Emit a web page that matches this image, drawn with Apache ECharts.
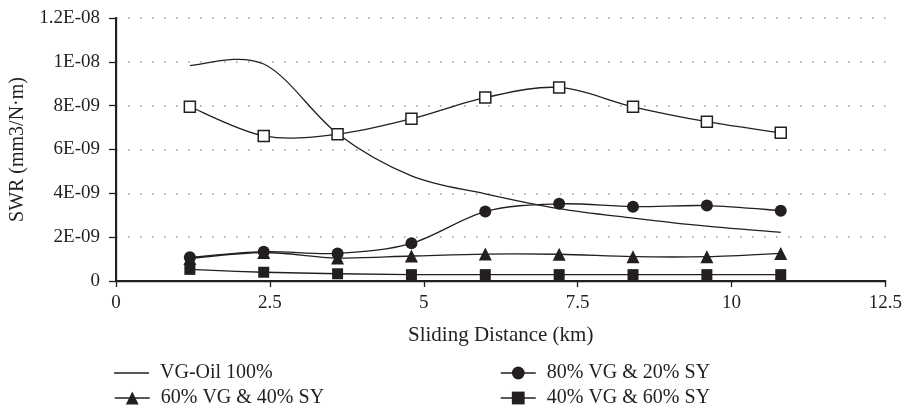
<!DOCTYPE html>
<html>
<head>
<meta charset="utf-8">
<script src="https://cdn.jsdelivr.net/npm/echarts@6/dist/echarts.min.js"></script>
<style>html,body{margin:0;padding:0;background:#fff}#c{width:905px;height:411px}</style>
</head>
<body>
<div id="c"></div>
<script>
const distances = [1.2, 2.4, 3.6, 4.8, 6.0, 7.2, 8.4, 9.6, 10.8];
const vgOil100 = [9.83e-9, 9.9e-9, 6.72e-9, 4.8e-9, 3.98e-9, 3.3e-9, 2.87e-9, 2.5e-9, 2.22e-9];
const openSquares = [7.95e-9, 6.62e-9, 6.70e-9, 7.40e-9, 8.37e-9, 8.83e-9, 7.95e-9, 7.27e-9, 6.76e-9];
const vg80sy20 = [1.08e-9, 1.34e-9, 1.26e-9, 1.72e-9, 3.17e-9, 3.52e-9, 3.39e-9, 3.44e-9, 3.21e-9];
const vg60sy40 = [1.03e-9, 1.30e-9, 1.05e-9, 1.14e-9, 1.23e-9, 1.22e-9, 1.11e-9, 1.11e-9, 1.26e-9];
const vg40sy60 = [0.53e-9, 0.40e-9, 0.33e-9, 0.29e-9, 0.29e-9, 0.29e-9, 0.29e-9, 0.29e-9, 0.29e-9];
const xTicks = [0, 2.5, 5, 7.5, 10, 12.5];
const yTicks = [0, 2e-9, 4e-9, 6e-9, 8e-9, 1e-8, 1.2e-8];

const ink = '#231f20';
const font = 'Liberation Serif';
const pairs = ys => distances.map((x, i) => [x, ys[i]]);
function sci(v) {
  if (v === 0) return '0';
  const e = Math.floor(Math.log10(v) + 1e-9);
  const m = +(v / Math.pow(10, e)).toFixed(2);
  return m + 'E-' + String(-e).padStart(2, '0');
}
// Excel-like (Catmull-Rom) spline through pixel points
function spline(pts) {
  let d = 'M' + pts[0][0] + ',' + pts[0][1];
  for (let i = 0; i < pts.length - 1; i++) {
    const p0 = pts[i - 1] || pts[i], p1 = pts[i], p2 = pts[i + 1], p3 = pts[i + 2] || pts[i + 1];
    const c1 = [p1[0] + (p2[0] - p0[0]) / 6, p1[1] + (p2[1] - p0[1]) / 6];
    const c2 = [p2[0] - (p3[0] - p1[0]) / 6, p2[1] - (p3[1] - p1[1]) / 6];
    d += ' C' + c1[0] + ',' + c1[1] + ' ' + c2[0] + ',' + c2[1] + ' ' + p2[0] + ',' + p2[1];
  }
  return d;
}
function curve(ys) {
  return {
    type: 'custom', z: 2, silent: true, data: pairs(ys),
    renderItem: (params, api) => {
      if (params.dataIndex !== 0) return null;
      const pts = ys.map((y, i) => api.coord([distances[i], y]));
      return { type: 'path', shape: { pathData: spline(pts) }, style: { fill: 'none', stroke: ink, lineWidth: 1.3 } };
    }
  };
}
function markers(name, ys, symbol, size, itemStyle) {
  return {
    type: 'line', name, z: 3, data: pairs(ys), symbol, symbolSize: size,
    lineStyle: { opacity: 0 }, itemStyle: itemStyle || { color: ink }, emphasis: { disabled: true }
  };
}
function legendAt(left, top, name, extra) {
  return Object.assign({
    left, top, padding: 0, itemWidth: 35, itemHeight: 16,
    textStyle: { fontFamily: font, fontSize: 20, color: ink, padding: [0, 0, 0, 6] },
    lineStyle: { color: ink, width: 1.5, opacity: 1 },
    data: [name]
  }, extra || {});
}

const chart = echarts.init(document.getElementById('c'));
chart.setOption({
  animation: false,
  color: [ink],
  textStyle: { fontFamily: font },
  grid: { left: 114, right: 19, top: 18, bottom: 130 },
  xAxis: [{
    type: 'value', min: xTicks[0], max: xTicks[xTicks.length - 1], interval: 2.5,
    name: 'Sliding Distance (km)', nameLocation: 'middle', nameGap: 44,
    nameTextStyle: { fontFamily: font, fontSize: 21, color: ink },
    axisLine: { lineStyle: { color: ink, width: 2 } },
    axisTick: { show: true, length: 6, lineStyle: { color: ink, width: 1.3 } },
    axisLabel: { fontFamily: font, fontSize: 19, color: ink, margin: 13 },
    splitLine: { show: false }
  }, {
    type: 'value', position: 'top', min: 0, max: 12.5,
    axisLine: { show: true, lineStyle: { color: ink, width: 1.3 } },
    axisTick: { show: false }, axisLabel: { show: false }, splitLine: { show: false }
  }],
  yAxis: [{
    type: 'value', min: yTicks[0], max: yTicks[yTicks.length - 1], interval: 2e-9,
    name: 'SWR (mm3/N·m)', nameLocation: 'middle', nameGap: 88,
    nameTextStyle: { fontFamily: font, fontSize: 20, color: ink },
    axisLine: { show: true, lineStyle: { color: ink, width: 2 } },
    axisTick: { show: true, length: 7, lineStyle: { color: ink, width: 1.3 } },
    axisLabel: { fontFamily: font, fontSize: 19, color: ink, margin: 16, formatter: sci },
    splitLine: { show: true, lineStyle: { color: '#9a9a9a', width: 1.5, type: [1.5, 10.5] } }
  }, {
    type: 'value', position: 'right', min: 0, max: 1.2e-8,
    axisLine: { show: true, lineStyle: { color: ink, width: 1.3 } },
    axisTick: { show: false }, axisLabel: { show: false }, splitLine: { show: false }
  }],
  legend: [
    legendAt(114, 363, 'VG-Oil 100%', { itemHeight: 1.5, data: [{ name: 'VG-Oil 100%', icon: 'rect' }] }),
    legendAt(114, 388, '60% VG & 40% SY'),
    legendAt(500, 363, '80% VG & 20% SY'),
    legendAt(500, 388, '40% VG & 60% SY')
  ],
  series: [
    markers('VG-Oil 100%', vgOil100, 'none', 0),
    markers('100% SY', openSquares, 'rect', 11, { color: '#ffffff', borderColor: ink, borderWidth: 1.5 }),
    markers('40% VG & 60% SY', vg40sy60, 'rect', 11),
    markers('60% VG & 40% SY', vg60sy40, 'triangle', 13),
    markers('80% VG & 20% SY', vg80sy20, 'circle', 12),
    curve(vgOil100),
    curve(openSquares),
    curve(vg40sy60),
    curve(vg60sy40),
    curve(vg80sy20)
  ]
});
</script>
</body>
</html>
